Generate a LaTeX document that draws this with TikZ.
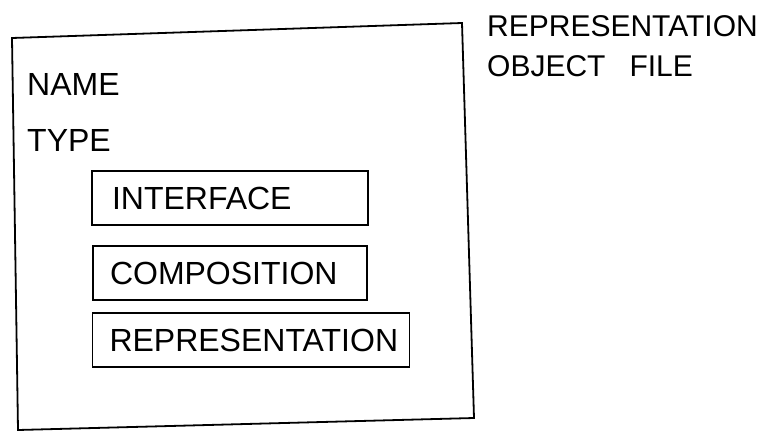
\documentclass[tikz,border=0pt]{standalone}
\usepackage{fontspec}
\setmainfont{Liberation Sans}
\usepackage{tikz}
\usetikzlibrary{positioning}

\begin{document}
\begin{tikzpicture}[x=1pt, y=-1pt,
    hand/.style={font=\fontsize{32}{36}\selectfont, inner sep=0pt},
    field/.style={draw, line width=1.6pt, font=\fontsize{32}{36}\selectfont,
      inner ysep=0pt, minimum height=54pt, align=left}]
  \useasboundingbox (0,0) rectangle (772,432);
  % Outer frame
  \draw[line width=1.8pt] (12,38) -- (462,23) -- (474,418) -- (18,430) -- cycle;
  % Plain fields
  \node[hand, anchor=west] (name) at (27,84) {NAME};
  \node[hand, anchor=west] (type) at (27,140) {TYPE};
  % Boxed fields
  \node[field, inner xsep=20pt, text width=236pt] (interface) at (230,198) {INTERFACE};
  \node[field, inner xsep=17pt, text width=240pt] (composition) at (230,273) {COMPOSITION};
  \node[field, inner xsep=17pt, text width=283pt] (representation) at (251,340) {REPRESENTATION};
  % Caption
  \node[hand, font=\fontsize{30}{40}\selectfont, align=left, anchor=north west]
    (caption) at (487,15) {REPRESENTATION\\OBJECT\hspace{24pt}FILE};
\end{tikzpicture}
\end{document}
